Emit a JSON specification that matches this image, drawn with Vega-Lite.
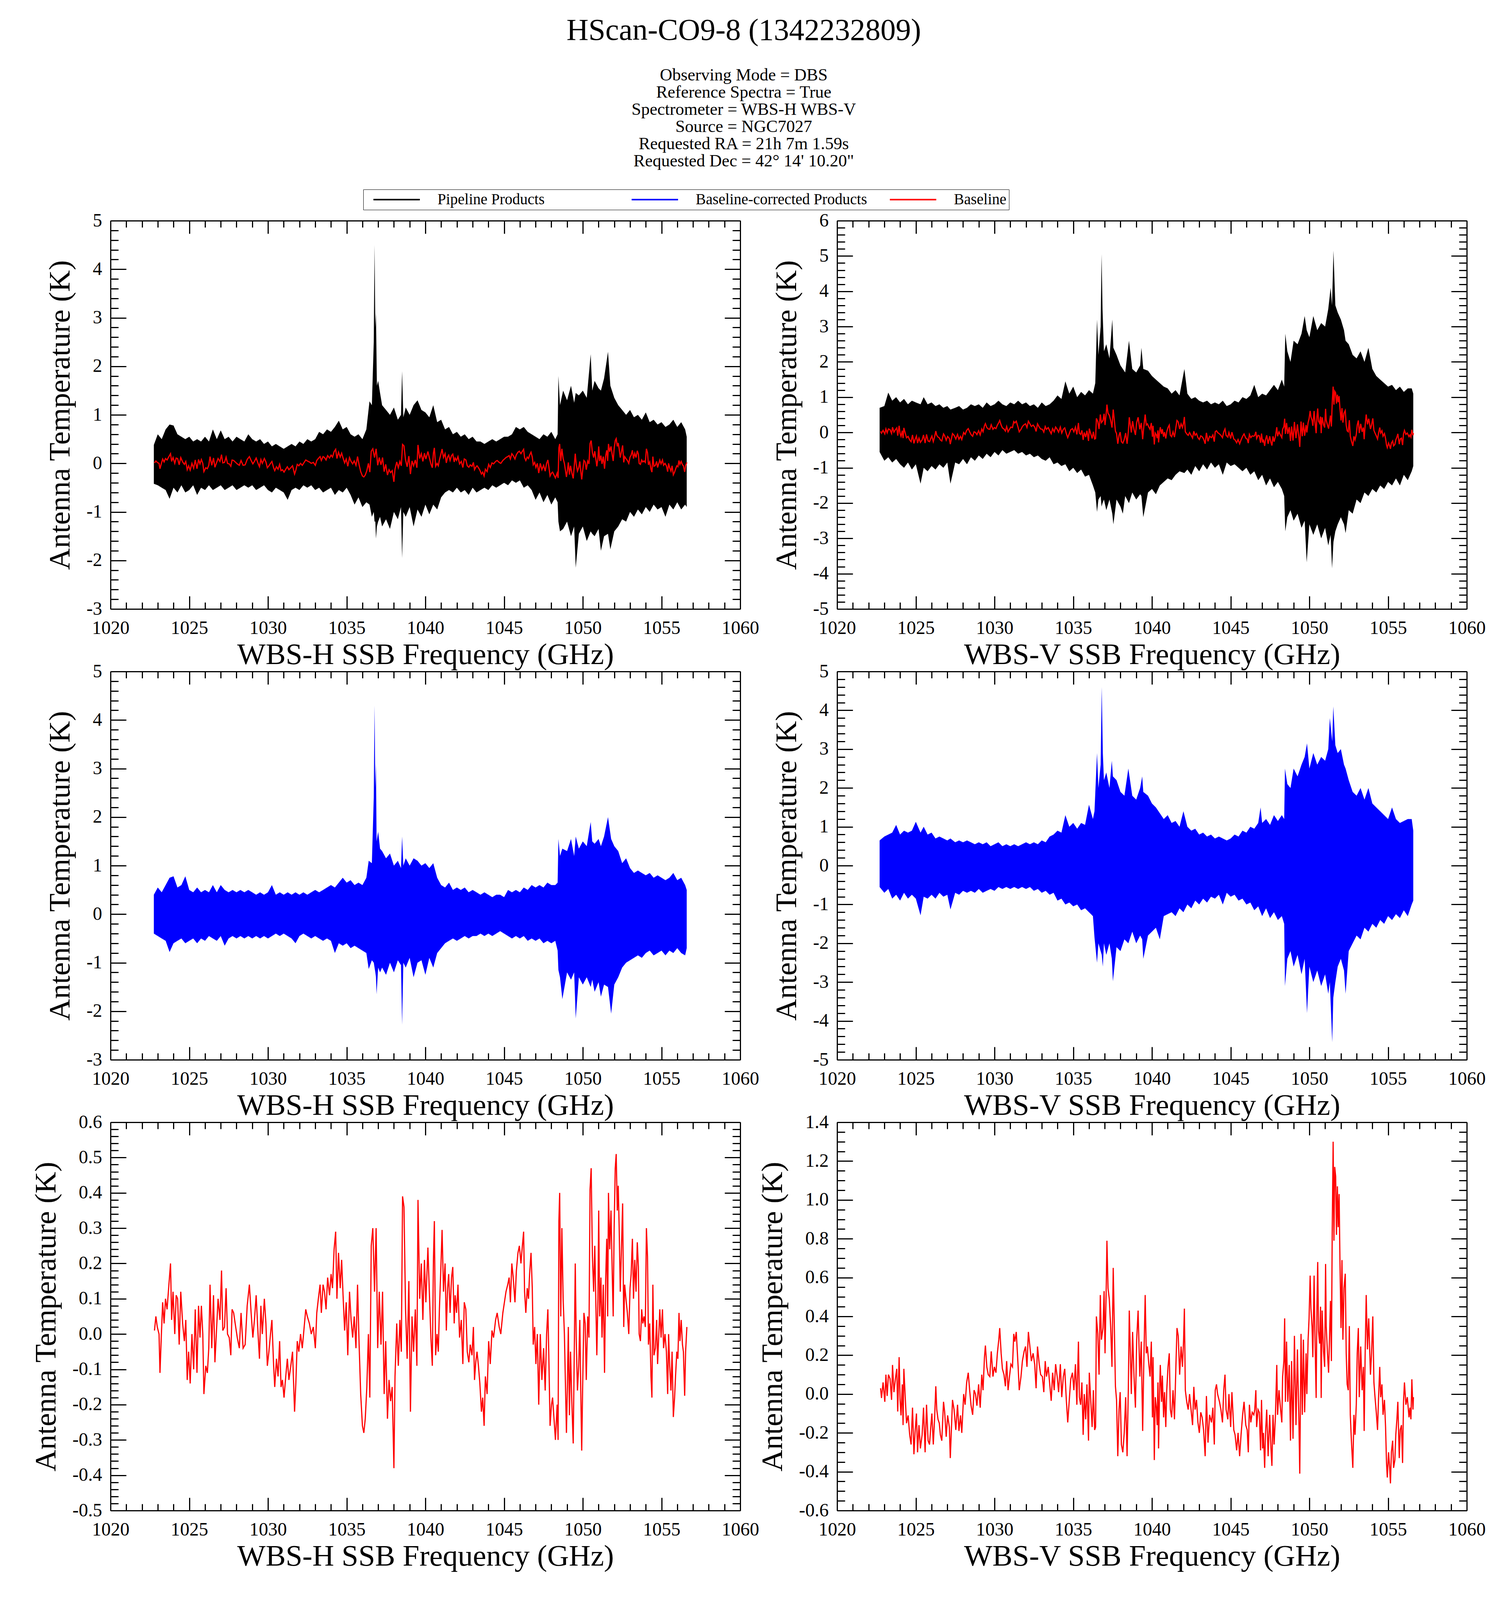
{
  "$schema": "https://vega.github.io/schema/vega-lite/v6.json",
  "background": "#ffffff",
  "padding": {"left": 79, "top": 39, "right": 20, "bottom": 20},
  "title": {
    "text": "HScan-CO9-8 (1342232809)",
    "subtitle": ["Observing Mode = DBS", "Reference Spectra = True", "Spectrometer = WBS-H WBS-V", "Source = NGC7027", "Requested RA = 21h 7m 1.59s", "Requested Dec = 42° 14' 10.20\""],
    "anchor": "middle",
    "dx": -37,
    "font": "Liberation Serif",
    "fontSize": 78,
    "fontWeight": "normal",
    "color": "#000000",
    "subtitleFont": "Liberation Serif",
    "subtitleFontSize": 44,
    "subtitleColor": "#000000",
    "subtitleLineHeight": 44,
    "subtitlePadding": 53,
    "offset": 50
  },
  "columns": 2,
  "spacing": {"row": 160, "column": 248},
  "bounds": "flush",
  "datasets": {
    "hPipe": [
      {"f":1022.75,"lo":-0.42,"hi":0.38},{"f":1023.0,"lo":-0.45,"hi":0.6},{"f":1023.25,"lo":-0.5,"hi":0.5},{"f":1023.5,"lo":-0.55,"hi":0.7},{"f":1023.75,"lo":-0.73,"hi":0.8},{"f":1024.0,"lo":-0.5,"hi":0.78},{"f":1024.25,"lo":-0.6,"hi":0.6},{"f":1024.5,"lo":-0.45,"hi":0.55},{"f":1024.75,"lo":-0.6,"hi":0.5},{"f":1025.0,"lo":-0.55,"hi":0.55},{"f":1025.25,"lo":-0.45,"hi":0.45},{"f":1025.5,"lo":-0.65,"hi":0.5},{"f":1025.75,"lo":-0.5,"hi":0.45},{"f":1026.0,"lo":-0.55,"hi":0.55},{"f":1026.25,"lo":-0.45,"hi":0.45},{"f":1026.5,"lo":-0.55,"hi":0.7},{"f":1026.75,"lo":-0.5,"hi":0.5},{"f":1027.0,"lo":-0.45,"hi":0.68},{"f":1027.25,"lo":-0.55,"hi":0.5},{"f":1027.5,"lo":-0.5,"hi":0.55},{"f":1027.75,"lo":-0.45,"hi":0.45},{"f":1028.0,"lo":-0.55,"hi":0.55},{"f":1028.25,"lo":-0.5,"hi":0.5},{"f":1028.5,"lo":-0.45,"hi":0.45},{"f":1028.75,"lo":-0.5,"hi":0.6},{"f":1029.0,"lo":-0.45,"hi":0.5},{"f":1029.25,"lo":-0.55,"hi":0.45},{"f":1029.5,"lo":-0.5,"hi":0.5},{"f":1029.75,"lo":-0.45,"hi":0.4},{"f":1030.0,"lo":-0.55,"hi":0.45},{"f":1030.25,"lo":-0.6,"hi":0.35},{"f":1030.5,"lo":-0.5,"hi":0.4},{"f":1030.75,"lo":-0.55,"hi":0.35},{"f":1031.0,"lo":-0.6,"hi":0.3},{"f":1031.25,"lo":-0.75,"hi":0.35},{"f":1031.5,"lo":-0.55,"hi":0.4},{"f":1031.75,"lo":-0.5,"hi":0.35},{"f":1032.0,"lo":-0.55,"hi":0.45},{"f":1032.25,"lo":-0.45,"hi":0.4},{"f":1032.5,"lo":-0.5,"hi":0.5},{"f":1032.75,"lo":-0.45,"hi":0.45},{"f":1033.0,"lo":-0.55,"hi":0.5},{"f":1033.25,"lo":-0.5,"hi":0.65},{"f":1033.5,"lo":-0.6,"hi":0.6},{"f":1033.75,"lo":-0.55,"hi":0.7},{"f":1034.0,"lo":-0.5,"hi":0.65},{"f":1034.25,"lo":-0.65,"hi":0.75},{"f":1034.5,"lo":-0.55,"hi":0.88},{"f":1034.75,"lo":-0.6,"hi":0.7},{"f":1035.0,"lo":-0.5,"hi":0.75},{"f":1035.25,"lo":-0.65,"hi":0.6},{"f":1035.5,"lo":-0.85,"hi":0.55},{"f":1035.75,"lo":-0.7,"hi":0.6},{"f":1036.0,"lo":-0.9,"hi":0.5},{"f":1036.25,"lo":-0.8,"hi":0.7},{"f":1036.45,"lo":-0.85,"hi":1.28},{"f":1036.6,"lo":-1.1,"hi":1.2},{"f":1036.72,"lo":-1.0,"hi":2.5},{"f":1036.77,"lo":-1.2,"hi":4.5},{"f":1036.82,"lo":-1.2,"hi":2.8},{"f":1036.86,"lo":-1.55,"hi":3.1},{"f":1036.92,"lo":-1.3,"hi":1.6},{"f":1037.0,"lo":-1.2,"hi":1.7},{"f":1037.12,"lo":-1.1,"hi":1.45},{"f":1037.25,"lo":-1.3,"hi":1.2},{"f":1037.5,"lo":-1.15,"hi":1.1},{"f":1037.75,"lo":-1.35,"hi":1.0},{"f":1038.0,"lo":-1.0,"hi":1.15},{"f":1038.25,"lo":-1.15,"hi":0.9},{"f":1038.45,"lo":-0.9,"hi":1.0},{"f":1038.52,"lo":-1.95,"hi":1.9},{"f":1038.6,"lo":-1.0,"hi":0.95},{"f":1038.75,"lo":-1.1,"hi":1.15},{"f":1039.0,"lo":-0.9,"hi":1.0},{"f":1039.25,"lo":-1.3,"hi":1.2},{"f":1039.5,"lo":-0.95,"hi":1.3},{"f":1039.75,"lo":-1.1,"hi":1.1},{"f":1040.0,"lo":-0.85,"hi":1.05},{"f":1040.25,"lo":-1.05,"hi":0.95},{"f":1040.5,"lo":-0.85,"hi":1.2},{"f":1040.75,"lo":-0.95,"hi":0.85},{"f":1041.0,"lo":-0.7,"hi":0.9},{"f":1041.25,"lo":-0.6,"hi":0.7},{"f":1041.5,"lo":-0.55,"hi":0.75},{"f":1041.75,"lo":-0.6,"hi":0.6},{"f":1042.0,"lo":-0.5,"hi":0.65},{"f":1042.25,"lo":-0.6,"hi":0.55},{"f":1042.5,"lo":-0.55,"hi":0.6},{"f":1042.75,"lo":-0.65,"hi":0.5},{"f":1043.0,"lo":-0.5,"hi":0.55},{"f":1043.25,"lo":-0.6,"hi":0.45},{"f":1043.5,"lo":-0.55,"hi":0.45},{"f":1043.75,"lo":-0.5,"hi":0.4},{"f":1044.0,"lo":-0.55,"hi":0.45},{"f":1044.25,"lo":-0.45,"hi":0.5},{"f":1044.5,"lo":-0.5,"hi":0.45},{"f":1044.75,"lo":-0.45,"hi":0.5},{"f":1045.0,"lo":-0.4,"hi":0.55},{"f":1045.25,"lo":-0.45,"hi":0.55},{"f":1045.5,"lo":-0.35,"hi":0.6},{"f":1045.75,"lo":-0.4,"hi":0.75},{"f":1046.0,"lo":-0.35,"hi":0.7},{"f":1046.25,"lo":-0.5,"hi":0.75},{"f":1046.5,"lo":-0.45,"hi":0.65},{"f":1046.75,"lo":-0.55,"hi":0.6},{"f":1047.0,"lo":-0.75,"hi":0.55},{"f":1047.25,"lo":-0.6,"hi":0.5},{"f":1047.5,"lo":-0.8,"hi":0.6},{"f":1047.75,"lo":-0.65,"hi":0.55},{"f":1048.0,"lo":-0.85,"hi":0.65},{"f":1048.25,"lo":-0.7,"hi":0.5},{"f":1048.4,"lo":-0.8,"hi":0.6},{"f":1048.45,"lo":-1.2,"hi":1.8},{"f":1048.55,"lo":-1.4,"hi":1.2},{"f":1048.75,"lo":-1.35,"hi":1.5},{"f":1049.0,"lo":-1.2,"hi":1.3},{"f":1049.25,"lo":-1.5,"hi":1.6},{"f":1049.45,"lo":-1.3,"hi":1.25},{"f":1049.55,"lo":-2.15,"hi":1.45},{"f":1049.75,"lo":-1.45,"hi":1.4},{"f":1050.0,"lo":-1.3,"hi":1.5},{"f":1050.25,"lo":-1.6,"hi":1.35},{"f":1050.5,"lo":-1.4,"hi":2.25},{"f":1050.6,"lo":-1.45,"hi":1.5},{"f":1050.75,"lo":-1.5,"hi":1.7},{"f":1051.0,"lo":-1.35,"hi":1.55},{"f":1051.15,"lo":-1.8,"hi":1.5},{"f":1051.35,"lo":-1.5,"hi":1.75},{"f":1051.6,"lo":-1.45,"hi":2.3},{"f":1051.75,"lo":-1.77,"hi":1.6},{"f":1052.0,"lo":-1.4,"hi":1.35},{"f":1052.25,"lo":-1.3,"hi":1.2},{"f":1052.5,"lo":-1.15,"hi":1.1},{"f":1052.75,"lo":-1.2,"hi":1.0},{"f":1053.0,"lo":-1.0,"hi":1.1},{"f":1053.25,"lo":-1.1,"hi":0.95},{"f":1053.5,"lo":-0.95,"hi":1.0},{"f":1053.75,"lo":-1.05,"hi":0.9},{"f":1054.0,"lo":-0.9,"hi":1.05},{"f":1054.25,"lo":-1.0,"hi":0.85},{"f":1054.5,"lo":-0.85,"hi":0.9},{"f":1054.75,"lo":-0.95,"hi":0.8},{"f":1055.0,"lo":-0.9,"hi":0.85},{"f":1055.25,"lo":-1.1,"hi":0.75},{"f":1055.5,"lo":-0.85,"hi":0.8},{"f":1055.75,"lo":-0.95,"hi":0.9},{"f":1056.0,"lo":-0.8,"hi":0.75},{"f":1056.25,"lo":-0.95,"hi":0.85},{"f":1056.5,"lo":-0.85,"hi":0.7},{"f":1056.6,"lo":-0.9,"hi":0.55}
    ],
    "hCorr": [
      {"f":1022.75,"lo":-0.4,"hi":0.4},{"f":1023.0,"lo":-0.45,"hi":0.55},{"f":1023.25,"lo":-0.5,"hi":0.45},{"f":1023.5,"lo":-0.55,"hi":0.6},{"f":1023.75,"lo":-0.78,"hi":0.75},{"f":1024.0,"lo":-0.6,"hi":0.78},{"f":1024.25,"lo":-0.55,"hi":0.55},{"f":1024.5,"lo":-0.5,"hi":0.6},{"f":1024.75,"lo":-0.6,"hi":0.78},{"f":1025.0,"lo":-0.55,"hi":0.5},{"f":1025.25,"lo":-0.5,"hi":0.45},{"f":1025.5,"lo":-0.6,"hi":0.55},{"f":1025.75,"lo":-0.5,"hi":0.45},{"f":1026.0,"lo":-0.55,"hi":0.5},{"f":1026.25,"lo":-0.45,"hi":0.45},{"f":1026.5,"lo":-0.5,"hi":0.6},{"f":1026.75,"lo":-0.55,"hi":0.45},{"f":1027.0,"lo":-0.45,"hi":0.6},{"f":1027.25,"lo":-0.65,"hi":0.5},{"f":1027.5,"lo":-0.5,"hi":0.45},{"f":1027.75,"lo":-0.45,"hi":0.5},{"f":1028.0,"lo":-0.5,"hi":0.45},{"f":1028.25,"lo":-0.45,"hi":0.5},{"f":1028.5,"lo":-0.5,"hi":0.45},{"f":1028.75,"lo":-0.45,"hi":0.5},{"f":1029.0,"lo":-0.5,"hi":0.45},{"f":1029.25,"lo":-0.45,"hi":0.4},{"f":1029.5,"lo":-0.5,"hi":0.45},{"f":1029.75,"lo":-0.45,"hi":0.4},{"f":1030.0,"lo":-0.5,"hi":0.45},{"f":1030.25,"lo":-0.45,"hi":0.6},{"f":1030.5,"lo":-0.4,"hi":0.4},{"f":1030.75,"lo":-0.45,"hi":0.45},{"f":1031.0,"lo":-0.4,"hi":0.4},{"f":1031.25,"lo":-0.45,"hi":0.45},{"f":1031.5,"lo":-0.5,"hi":0.4},{"f":1031.75,"lo":-0.6,"hi":0.45},{"f":1032.0,"lo":-0.45,"hi":0.4},{"f":1032.25,"lo":-0.4,"hi":0.45},{"f":1032.5,"lo":-0.45,"hi":0.4},{"f":1032.75,"lo":-0.5,"hi":0.45},{"f":1033.0,"lo":-0.45,"hi":0.5},{"f":1033.25,"lo":-0.5,"hi":0.45},{"f":1033.5,"lo":-0.55,"hi":0.5},{"f":1033.75,"lo":-0.5,"hi":0.55},{"f":1034.0,"lo":-0.55,"hi":0.6},{"f":1034.25,"lo":-0.8,"hi":0.55},{"f":1034.5,"lo":-0.6,"hi":0.65},{"f":1034.75,"lo":-0.65,"hi":0.75},{"f":1035.0,"lo":-0.6,"hi":0.65},{"f":1035.25,"lo":-0.7,"hi":0.7},{"f":1035.5,"lo":-0.65,"hi":0.6},{"f":1035.75,"lo":-0.7,"hi":0.65},{"f":1036.0,"lo":-0.75,"hi":0.6},{"f":1036.25,"lo":-0.8,"hi":0.75},{"f":1036.4,"lo":-1.13,"hi":1.1},{"f":1036.6,"lo":-0.95,"hi":1.05},{"f":1036.72,"lo":-1.0,"hi":2.4},{"f":1036.77,"lo":-1.1,"hi":4.3},{"f":1036.82,"lo":-1.2,"hi":2.6},{"f":1036.86,"lo":-1.3,"hi":3.1},{"f":1036.9,"lo":-1.65,"hi":1.5},{"f":1037.0,"lo":-1.1,"hi":1.7},{"f":1037.12,"lo":-1.2,"hi":1.35},{"f":1037.25,"lo":-1.1,"hi":1.3},{"f":1037.5,"lo":-1.25,"hi":1.15},{"f":1037.75,"lo":-1.0,"hi":1.25},{"f":1038.0,"lo":-1.2,"hi":1.0},{"f":1038.25,"lo":-0.95,"hi":1.1},{"f":1038.45,"lo":-1.05,"hi":0.95},{"f":1038.52,"lo":-2.28,"hi":1.6},{"f":1038.6,"lo":-1.0,"hi":1.0},{"f":1038.75,"lo":-1.1,"hi":1.15},{"f":1039.0,"lo":-0.9,"hi":1.0},{"f":1039.25,"lo":-1.3,"hi":1.15},{"f":1039.5,"lo":-1.0,"hi":1.1},{"f":1039.75,"lo":-0.95,"hi":1.0},{"f":1040.0,"lo":-1.25,"hi":1.05},{"f":1040.25,"lo":-0.9,"hi":0.95},{"f":1040.5,"lo":-1.1,"hi":1.05},{"f":1040.75,"lo":-0.8,"hi":0.75},{"f":1041.0,"lo":-0.7,"hi":0.6},{"f":1041.25,"lo":-0.6,"hi":0.55},{"f":1041.5,"lo":-0.55,"hi":0.65},{"f":1041.75,"lo":-0.5,"hi":0.5},{"f":1042.0,"lo":-0.55,"hi":0.55},{"f":1042.25,"lo":-0.5,"hi":0.5},{"f":1042.5,"lo":-0.45,"hi":0.55},{"f":1042.75,"lo":-0.5,"hi":0.45},{"f":1043.0,"lo":-0.45,"hi":0.5},{"f":1043.25,"lo":-0.45,"hi":0.45},{"f":1043.5,"lo":-0.4,"hi":0.4},{"f":1043.75,"lo":-0.45,"hi":0.45},{"f":1044.0,"lo":-0.4,"hi":0.4},{"f":1044.25,"lo":-0.45,"hi":0.35},{"f":1044.5,"lo":-0.4,"hi":0.4},{"f":1044.75,"lo":-0.35,"hi":0.4},{"f":1045.0,"lo":-0.4,"hi":0.35},{"f":1045.25,"lo":-0.45,"hi":0.5},{"f":1045.5,"lo":-0.5,"hi":0.45},{"f":1045.75,"lo":-0.45,"hi":0.5},{"f":1046.0,"lo":-0.5,"hi":0.45},{"f":1046.25,"lo":-0.45,"hi":0.55},{"f":1046.5,"lo":-0.55,"hi":0.5},{"f":1046.75,"lo":-0.5,"hi":0.6},{"f":1047.0,"lo":-0.55,"hi":0.55},{"f":1047.25,"lo":-0.5,"hi":0.6},{"f":1047.5,"lo":-0.6,"hi":0.55},{"f":1047.75,"lo":-0.55,"hi":0.65},{"f":1048.0,"lo":-0.6,"hi":0.6},{"f":1048.25,"lo":-0.55,"hi":0.6},{"f":1048.4,"lo":-0.75,"hi":0.65},{"f":1048.45,"lo":-1.15,"hi":1.55},{"f":1048.55,"lo":-1.3,"hi":1.2},{"f":1048.7,"lo":-1.75,"hi":1.35},{"f":1049.0,"lo":-1.2,"hi":1.3},{"f":1049.25,"lo":-1.35,"hi":1.55},{"f":1049.45,"lo":-1.2,"hi":1.2},{"f":1049.55,"lo":-2.15,"hi":1.6},{"f":1049.75,"lo":-1.3,"hi":1.35},{"f":1050.0,"lo":-1.45,"hi":1.5},{"f":1050.25,"lo":-1.3,"hi":1.4},{"f":1050.5,"lo":-1.5,"hi":1.9},{"f":1050.6,"lo":-1.35,"hi":1.5},{"f":1050.75,"lo":-1.6,"hi":1.45},{"f":1051.0,"lo":-1.4,"hi":1.55},{"f":1051.15,"lo":-1.7,"hi":1.4},{"f":1051.35,"lo":-1.45,"hi":1.6},{"f":1051.6,"lo":-1.5,"hi":2.0},{"f":1051.8,"lo":-2.05,"hi":1.55},{"f":1052.0,"lo":-1.45,"hi":1.4},{"f":1052.25,"lo":-1.3,"hi":1.3},{"f":1052.5,"lo":-1.1,"hi":1.05},{"f":1052.75,"lo":-1.0,"hi":1.15},{"f":1053.0,"lo":-0.95,"hi":0.95},{"f":1053.25,"lo":-0.9,"hi":0.85},{"f":1053.5,"lo":-0.85,"hi":0.9},{"f":1053.75,"lo":-0.9,"hi":0.85},{"f":1054.0,"lo":-0.8,"hi":0.8},{"f":1054.25,"lo":-0.75,"hi":0.85},{"f":1054.5,"lo":-0.85,"hi":0.75},{"f":1054.75,"lo":-0.8,"hi":0.8},{"f":1055.0,"lo":-0.75,"hi":0.75},{"f":1055.25,"lo":-0.85,"hi":0.7},{"f":1055.5,"lo":-0.75,"hi":0.75},{"f":1055.75,"lo":-0.8,"hi":0.85},{"f":1056.0,"lo":-0.7,"hi":0.7},{"f":1056.25,"lo":-0.8,"hi":0.75},{"f":1056.5,"lo":-0.85,"hi":0.6},{"f":1056.6,"lo":-0.7,"hi":0.5}
    ],
    "vPipe": [
      {"f":1022.7,"lo":-0.55,"hi":0.7},{"f":1023.0,"lo":-0.8,"hi":0.75},{"f":1023.25,"lo":-0.7,"hi":1.13},{"f":1023.5,"lo":-0.85,"hi":0.9},{"f":1023.75,"lo":-0.75,"hi":1.0},{"f":1024.0,"lo":-0.9,"hi":0.85},{"f":1024.25,"lo":-1.0,"hi":0.95},{"f":1024.5,"lo":-0.85,"hi":0.8},{"f":1024.75,"lo":-1.05,"hi":0.9},{"f":1025.0,"lo":-0.9,"hi":0.85},{"f":1025.3,"lo":-1.45,"hi":0.8},{"f":1025.5,"lo":-1.0,"hi":1.0},{"f":1025.75,"lo":-1.1,"hi":0.8},{"f":1026.0,"lo":-0.95,"hi":0.85},{"f":1026.25,"lo":-1.05,"hi":0.75},{"f":1026.5,"lo":-0.9,"hi":0.8},{"f":1026.75,"lo":-1.0,"hi":0.7},{"f":1027.0,"lo":-0.85,"hi":0.75},{"f":1027.2,"lo":-1.45,"hi":0.65},{"f":1027.5,"lo":-0.85,"hi":0.7},{"f":1027.75,"lo":-0.9,"hi":0.75},{"f":1028.0,"lo":-0.75,"hi":0.65},{"f":1028.25,"lo":-0.9,"hi":0.7},{"f":1028.5,"lo":-0.7,"hi":0.8},{"f":1028.75,"lo":-0.8,"hi":0.75},{"f":1029.0,"lo":-0.65,"hi":0.8},{"f":1029.25,"lo":-0.75,"hi":0.7},{"f":1029.5,"lo":-0.6,"hi":0.85},{"f":1029.75,"lo":-0.7,"hi":0.75},{"f":1030.0,"lo":-0.55,"hi":0.8},{"f":1030.25,"lo":-0.65,"hi":0.9},{"f":1030.5,"lo":-0.5,"hi":0.8},{"f":1030.75,"lo":-0.6,"hi":0.75},{"f":1031.0,"lo":-0.55,"hi":0.85},{"f":1031.25,"lo":-0.5,"hi":0.8},{"f":1031.5,"lo":-0.6,"hi":0.9},{"f":1031.75,"lo":-0.55,"hi":0.8},{"f":1032.0,"lo":-0.65,"hi":0.85},{"f":1032.25,"lo":-0.6,"hi":0.75},{"f":1032.5,"lo":-0.7,"hi":0.8},{"f":1032.75,"lo":-0.65,"hi":0.7},{"f":1033.0,"lo":-0.75,"hi":0.85},{"f":1033.25,"lo":-0.8,"hi":0.75},{"f":1033.5,"lo":-0.7,"hi":0.8},{"f":1033.75,"lo":-0.9,"hi":0.9},{"f":1034.0,"lo":-0.85,"hi":1.05},{"f":1034.25,"lo":-0.95,"hi":0.95},{"f":1034.5,"lo":-0.9,"hi":1.45},{"f":1034.75,"lo":-1.1,"hi":1.1},{"f":1035.0,"lo":-1.0,"hi":1.3},{"f":1035.25,"lo":-1.15,"hi":1.0},{"f":1035.5,"lo":-1.05,"hi":1.15},{"f":1035.75,"lo":-1.25,"hi":1.05},{"f":1036.0,"lo":-1.2,"hi":1.2},{"f":1036.25,"lo":-1.5,"hi":1.1},{"f":1036.4,"lo":-1.7,"hi":1.4},{"f":1036.51,"lo":-2.25,"hi":3.2},{"f":1036.6,"lo":-1.9,"hi":2.2},{"f":1036.74,"lo":-1.8,"hi":3.0},{"f":1036.8,"lo":-2.1,"hi":5.05},{"f":1036.86,"lo":-2.0,"hi":3.5},{"f":1036.95,"lo":-1.9,"hi":2.3},{"f":1037.1,"lo":-2.2,"hi":2.5},{"f":1037.3,"lo":-1.9,"hi":2.1},{"f":1037.48,"lo":-2.3,"hi":3.2},{"f":1037.55,"lo":-2.6,"hi":2.4},{"f":1037.75,"lo":-1.9,"hi":2.2},{"f":1038.0,"lo":-2.1,"hi":1.9},{"f":1038.15,"lo":-2.3,"hi":1.8},{"f":1038.3,"lo":-1.8,"hi":1.7},{"f":1038.54,"lo":-2.0,"hi":2.6},{"f":1038.75,"lo":-1.7,"hi":1.8},{"f":1039.0,"lo":-1.9,"hi":1.7},{"f":1039.25,"lo":-1.75,"hi":1.9},{"f":1039.33,"lo":-1.8,"hi":2.4},{"f":1039.45,"lo":-2.4,"hi":1.8},{"f":1039.75,"lo":-1.7,"hi":1.75},{"f":1040.0,"lo":-1.6,"hi":1.6},{"f":1040.25,"lo":-1.75,"hi":1.5},{"f":1040.5,"lo":-1.5,"hi":1.4},{"f":1040.75,"lo":-1.4,"hi":1.3},{"f":1041.0,"lo":-1.3,"hi":1.25},{"f":1041.25,"lo":-1.35,"hi":1.1},{"f":1041.5,"lo":-1.2,"hi":1.2},{"f":1041.75,"lo":-1.1,"hi":1.05},{"f":1042.06,"lo":-1.15,"hi":1.8},{"f":1042.25,"lo":-1.05,"hi":1.1},{"f":1042.5,"lo":-1.2,"hi":0.95},{"f":1042.75,"lo":-0.95,"hi":1.0},{"f":1043.0,"lo":-1.1,"hi":0.9},{"f":1043.25,"lo":-0.9,"hi":0.85},{"f":1043.5,"lo":-1.05,"hi":0.9},{"f":1043.75,"lo":-0.85,"hi":0.8},{"f":1044.0,"lo":-1.0,"hi":0.85},{"f":1044.25,"lo":-0.9,"hi":0.8},{"f":1044.5,"lo":-1.2,"hi":0.9},{"f":1044.75,"lo":-0.85,"hi":0.75},{"f":1045.0,"lo":-0.95,"hi":0.8},{"f":1045.25,"lo":-0.9,"hi":0.9},{"f":1045.5,"lo":-1.0,"hi":0.85},{"f":1045.75,"lo":-1.1,"hi":1.0},{"f":1046.0,"lo":-1.0,"hi":0.95},{"f":1046.25,"lo":-1.2,"hi":1.05},{"f":1046.5,"lo":-1.1,"hi":1.35},{"f":1046.75,"lo":-1.35,"hi":1.0},{"f":1047.0,"lo":-1.2,"hi":1.1},{"f":1047.25,"lo":-1.5,"hi":1.05},{"f":1047.5,"lo":-1.3,"hi":1.2},{"f":1047.75,"lo":-1.55,"hi":1.35},{"f":1048.0,"lo":-1.4,"hi":1.2},{"f":1048.25,"lo":-1.6,"hi":1.5},{"f":1048.4,"lo":-1.8,"hi":1.3},{"f":1048.47,"lo":-2.8,"hi":2.8},{"f":1048.6,"lo":-2.4,"hi":2.3},{"f":1048.8,"lo":-2.2,"hi":2.0},{"f":1049.0,"lo":-2.5,"hi":2.6},{"f":1049.25,"lo":-2.3,"hi":2.5},{"f":1049.5,"lo":-2.7,"hi":2.8},{"f":1049.7,"lo":-2.5,"hi":3.3},{"f":1049.83,"lo":-3.68,"hi":2.9},{"f":1050.0,"lo":-2.6,"hi":2.7},{"f":1050.25,"lo":-2.9,"hi":3.3},{"f":1050.5,"lo":-2.6,"hi":2.9},{"f":1050.75,"lo":-3.0,"hi":3.1},{"f":1051.0,"lo":-2.7,"hi":3.0},{"f":1051.2,"lo":-3.2,"hi":3.5},{"f":1051.35,"lo":-2.9,"hi":4.1},{"f":1051.44,"lo":-3.85,"hi":3.6},{"f":1051.53,"lo":-3.1,"hi":5.15},{"f":1051.65,"lo":-2.8,"hi":3.6},{"f":1051.8,"lo":-2.6,"hi":3.4},{"f":1052.0,"lo":-2.4,"hi":3.2},{"f":1052.2,"lo":-2.6,"hi":2.9},{"f":1052.3,"lo":-2.85,"hi":2.6},{"f":1052.5,"lo":-2.2,"hi":2.5},{"f":1052.75,"lo":-2.3,"hi":2.2},{"f":1053.0,"lo":-1.9,"hi":2.1},{"f":1053.25,"lo":-2.0,"hi":2.3},{"f":1053.5,"lo":-1.7,"hi":2.0},{"f":1053.75,"lo":-1.8,"hi":2.4},{"f":1054.0,"lo":-1.6,"hi":1.8},{"f":1054.25,"lo":-1.7,"hi":1.6},{"f":1054.5,"lo":-1.5,"hi":1.5},{"f":1054.75,"lo":-1.6,"hi":1.4},{"f":1055.0,"lo":-1.4,"hi":1.3},{"f":1055.25,"lo":-1.5,"hi":1.35},{"f":1055.5,"lo":-1.3,"hi":1.2},{"f":1055.75,"lo":-1.5,"hi":1.3},{"f":1056.0,"lo":-1.2,"hi":1.15},{"f":1056.25,"lo":-1.35,"hi":1.25},{"f":1056.5,"lo":-1.1,"hi":1.25},{"f":1056.6,"lo":-0.95,"hi":1.1}
    ],
    "vCorr": [
      {"f":1022.7,"lo":-0.55,"hi":0.65},{"f":1023.0,"lo":-0.7,"hi":0.75},{"f":1023.25,"lo":-0.6,"hi":0.8},{"f":1023.5,"lo":-0.85,"hi":0.85},{"f":1023.75,"lo":-0.75,"hi":1.05},{"f":1024.0,"lo":-0.9,"hi":0.8},{"f":1024.25,"lo":-0.7,"hi":0.9},{"f":1024.5,"lo":-0.85,"hi":0.85},{"f":1024.75,"lo":-0.75,"hi":0.9},{"f":1025.0,"lo":-0.85,"hi":1.13},{"f":1025.3,"lo":-1.28,"hi":0.85},{"f":1025.5,"lo":-0.8,"hi":1.0},{"f":1025.75,"lo":-0.85,"hi":0.8},{"f":1026.0,"lo":-0.75,"hi":0.85},{"f":1026.25,"lo":-0.85,"hi":0.7},{"f":1026.5,"lo":-0.7,"hi":0.75},{"f":1026.75,"lo":-0.8,"hi":0.7},{"f":1027.0,"lo":-0.75,"hi":0.65},{"f":1027.2,"lo":-1.13,"hi":0.7},{"f":1027.5,"lo":-0.7,"hi":0.6},{"f":1027.75,"lo":-0.75,"hi":0.65},{"f":1028.0,"lo":-0.65,"hi":0.6},{"f":1028.25,"lo":-0.7,"hi":0.65},{"f":1028.5,"lo":-0.65,"hi":0.6},{"f":1028.75,"lo":-0.7,"hi":0.55},{"f":1029.0,"lo":-0.6,"hi":0.6},{"f":1029.25,"lo":-0.7,"hi":0.55},{"f":1029.5,"lo":-0.65,"hi":0.6},{"f":1029.75,"lo":-0.6,"hi":0.5},{"f":1030.0,"lo":-0.65,"hi":0.55},{"f":1030.25,"lo":-0.55,"hi":0.6},{"f":1030.5,"lo":-0.6,"hi":0.5},{"f":1030.75,"lo":-0.55,"hi":0.55},{"f":1031.0,"lo":-0.6,"hi":0.5},{"f":1031.25,"lo":-0.55,"hi":0.55},{"f":1031.5,"lo":-0.6,"hi":0.5},{"f":1031.75,"lo":-0.55,"hi":0.55},{"f":1032.0,"lo":-0.6,"hi":0.6},{"f":1032.25,"lo":-0.55,"hi":0.55},{"f":1032.5,"lo":-0.65,"hi":0.6},{"f":1032.75,"lo":-0.6,"hi":0.55},{"f":1033.0,"lo":-0.7,"hi":0.65},{"f":1033.25,"lo":-0.65,"hi":0.6},{"f":1033.5,"lo":-0.75,"hi":0.75},{"f":1033.75,"lo":-0.7,"hi":0.8},{"f":1034.0,"lo":-0.9,"hi":0.9},{"f":1034.25,"lo":-0.85,"hi":0.85},{"f":1034.5,"lo":-1.0,"hi":1.3},{"f":1034.75,"lo":-0.95,"hi":1.0},{"f":1035.0,"lo":-1.05,"hi":1.1},{"f":1035.25,"lo":-1.0,"hi":0.95},{"f":1035.5,"lo":-1.15,"hi":1.1},{"f":1035.75,"lo":-1.1,"hi":1.05},{"f":1036.0,"lo":-1.2,"hi":1.57},{"f":1036.25,"lo":-1.3,"hi":1.2},{"f":1036.35,"lo":-1.85,"hi":1.4},{"f":1036.51,"lo":-2.5,"hi":2.9},{"f":1036.6,"lo":-2.0,"hi":2.0},{"f":1036.74,"lo":-2.2,"hi":2.6},{"f":1036.81,"lo":-2.3,"hi":4.6},{"f":1036.88,"lo":-2.6,"hi":2.9},{"f":1036.95,"lo":-2.0,"hi":2.2},{"f":1037.1,"lo":-2.3,"hi":2.4},{"f":1037.3,"lo":-2.0,"hi":2.0},{"f":1037.45,"lo":-2.4,"hi":2.7},{"f":1037.52,"lo":-2.98,"hi":2.3},{"f":1037.75,"lo":-2.1,"hi":2.2},{"f":1038.0,"lo":-2.2,"hi":1.9},{"f":1038.25,"lo":-1.9,"hi":1.8},{"f":1038.5,"lo":-2.0,"hi":2.5},{"f":1038.75,"lo":-1.7,"hi":1.8},{"f":1039.0,"lo":-2.0,"hi":1.7},{"f":1039.25,"lo":-1.8,"hi":2.0},{"f":1039.38,"lo":-1.9,"hi":2.3},{"f":1039.45,"lo":-2.4,"hi":1.9},{"f":1039.75,"lo":-1.8,"hi":1.8},{"f":1040.0,"lo":-1.7,"hi":1.6},{"f":1040.25,"lo":-1.6,"hi":1.5},{"f":1040.5,"lo":-1.9,"hi":1.35},{"f":1040.75,"lo":-1.3,"hi":1.2},{"f":1041.0,"lo":-1.25,"hi":1.3},{"f":1041.25,"lo":-1.2,"hi":1.1},{"f":1041.5,"lo":-1.3,"hi":1.15},{"f":1041.75,"lo":-1.1,"hi":1.0},{"f":1042.0,"lo":-1.2,"hi":1.4},{"f":1042.25,"lo":-1.0,"hi":1.0},{"f":1042.5,"lo":-1.1,"hi":0.9},{"f":1042.75,"lo":-0.9,"hi":0.95},{"f":1043.0,"lo":-1.0,"hi":0.8},{"f":1043.25,"lo":-0.85,"hi":0.85},{"f":1043.5,"lo":-0.95,"hi":0.75},{"f":1043.75,"lo":-0.8,"hi":0.8},{"f":1044.0,"lo":-0.85,"hi":0.7},{"f":1044.25,"lo":-0.75,"hi":0.75},{"f":1044.5,"lo":-1.0,"hi":0.7},{"f":1044.75,"lo":-0.7,"hi":0.65},{"f":1045.0,"lo":-0.8,"hi":0.7},{"f":1045.25,"lo":-0.75,"hi":0.8},{"f":1045.5,"lo":-0.9,"hi":0.75},{"f":1045.75,"lo":-0.85,"hi":0.9},{"f":1046.0,"lo":-1.0,"hi":0.85},{"f":1046.25,"lo":-0.95,"hi":1.0},{"f":1046.5,"lo":-1.15,"hi":0.95},{"f":1046.75,"lo":-1.05,"hi":1.1},{"f":1046.9,"lo":-1.2,"hi":1.5},{"f":1047.0,"lo":-1.3,"hi":1.1},{"f":1047.25,"lo":-1.1,"hi":1.2},{"f":1047.5,"lo":-1.35,"hi":1.05},{"f":1047.75,"lo":-1.2,"hi":1.3},{"f":1048.0,"lo":-1.4,"hi":1.15},{"f":1048.25,"lo":-1.3,"hi":1.3},{"f":1048.4,"lo":-1.5,"hi":1.2},{"f":1048.45,"lo":-3.1,"hi":2.5},{"f":1048.6,"lo":-2.4,"hi":2.1},{"f":1048.8,"lo":-2.2,"hi":2.0},{"f":1049.0,"lo":-2.6,"hi":2.5},{"f":1049.25,"lo":-2.3,"hi":2.3},{"f":1049.5,"lo":-2.8,"hi":2.6},{"f":1049.7,"lo":-2.4,"hi":2.8},{"f":1049.85,"lo":-3.8,"hi":3.15},{"f":1050.0,"lo":-2.6,"hi":2.5},{"f":1050.25,"lo":-3.0,"hi":2.9},{"f":1050.5,"lo":-2.7,"hi":2.6},{"f":1050.75,"lo":-3.1,"hi":2.8},{"f":1051.0,"lo":-2.8,"hi":2.7},{"f":1051.2,"lo":-3.3,"hi":3.0},{"f":1051.3,"lo":-3.0,"hi":3.8},{"f":1051.45,"lo":-4.55,"hi":3.2},{"f":1051.52,"lo":-3.4,"hi":4.1},{"f":1051.65,"lo":-3.0,"hi":3.1},{"f":1051.8,"lo":-2.6,"hi":2.9},{"f":1052.0,"lo":-2.4,"hi":3.0},{"f":1052.2,"lo":-2.7,"hi":2.6},{"f":1052.3,"lo":-3.3,"hi":2.5},{"f":1052.5,"lo":-2.2,"hi":2.2},{"f":1052.75,"lo":-2.0,"hi":1.9},{"f":1053.0,"lo":-1.8,"hi":1.8},{"f":1053.25,"lo":-1.9,"hi":2.0},{"f":1053.5,"lo":-1.6,"hi":1.7},{"f":1053.75,"lo":-1.7,"hi":2.0},{"f":1054.0,"lo":-1.5,"hi":1.6},{"f":1054.25,"lo":-1.6,"hi":1.5},{"f":1054.5,"lo":-1.4,"hi":1.4},{"f":1054.75,"lo":-1.5,"hi":1.3},{"f":1055.0,"lo":-1.3,"hi":1.2},{"f":1055.25,"lo":-1.4,"hi":1.5},{"f":1055.5,"lo":-1.25,"hi":1.2},{"f":1055.75,"lo":-1.35,"hi":1.1},{"f":1056.0,"lo":-1.15,"hi":1.15},{"f":1056.25,"lo":-1.3,"hi":1.2},{"f":1056.5,"lo":-1.0,"hi":1.2},{"f":1056.6,"lo":-0.9,"hi":0.9}
    ],
    "hBase": [
      {"f":1022.79,"t":0.01},{"f":1022.88,"t":0.05},{"f":1022.97,"t":0.02},{"f":1023.08,"t":0.0},{"f":1023.14,"t":-0.11},{"f":1023.23,"t":0.0},{"f":1023.31,"t":0.09},{"f":1023.4,"t":0.03},{"f":1023.49,"t":0.1},{"f":1023.59,"t":0.07},{"f":1023.69,"t":0.13},{"f":1023.81,"t":0.2},{"f":1023.88,"t":0.04},{"f":1023.97,"t":0.12},{"f":1024.08,"t":0.0},{"f":1024.17,"t":0.11},{"f":1024.26,"t":0.1},{"f":1024.36,"t":-0.03},{"f":1024.46,"t":0.12},{"f":1024.58,"t":0.03},{"f":1024.69,"t":-0.02},{"f":1024.78,"t":0.04},{"f":1024.87,"t":-0.13},{"f":1024.96,"t":-0.05},{"f":1025.06,"t":-0.14},{"f":1025.17,"t":0.0},{"f":1025.28,"t":-0.1},{"f":1025.38,"t":0.07},{"f":1025.49,"t":-0.11},{"f":1025.59,"t":0.08},{"f":1025.68,"t":-0.01},{"f":1025.77,"t":0.08},{"f":1025.86,"t":0.0},{"f":1025.93,"t":-0.17},{"f":1026.05,"t":-0.09},{"f":1026.15,"t":-0.11},{"f":1026.24,"t":-0.04},{"f":1026.32,"t":0.14},{"f":1026.43,"t":-0.04},{"f":1026.54,"t":0.11},{"f":1026.63,"t":-0.08},{"f":1026.73,"t":0.01},{"f":1026.83,"t":0.1},{"f":1026.95,"t":0.04},{"f":1027.05,"t":0.18},{"f":1027.13,"t":0.01},{"f":1027.24,"t":0.02},{"f":1027.34,"t":0.13},{"f":1027.43,"t":0.0},{"f":1027.54,"t":-0.01},{"f":1027.64,"t":-0.06},{"f":1027.72,"t":0.07},{"f":1027.82,"t":0.06},{"f":1027.95,"t":0.02},{"f":1028.05,"t":-0.01},{"f":1028.18,"t":-0.04},{"f":1028.29,"t":0.06},{"f":1028.42,"t":-0.04},{"f":1028.55,"t":-0.03},{"f":1028.68,"t":0.08},{"f":1028.82,"t":0.14},{"f":1028.93,"t":0.06},{"f":1029.04,"t":-0.01},{"f":1029.14,"t":0.04},{"f":1029.25,"t":0.11},{"f":1029.37,"t":0.0},{"f":1029.46,"t":-0.07},{"f":1029.55,"t":0.08},{"f":1029.64,"t":0.0},{"f":1029.77,"t":0.1},{"f":1029.87,"t":0.03},{"f":1029.96,"t":-0.09},{"f":1030.06,"t":-0.05},{"f":1030.16,"t":0.0},{"f":1030.25,"t":0.04},{"f":1030.36,"t":-0.09},{"f":1030.43,"t":-0.15},{"f":1030.54,"t":-0.07},{"f":1030.64,"t":-0.12},{"f":1030.74,"t":-0.02},{"f":1030.83,"t":-0.15},{"f":1030.92,"t":-0.13},{"f":1031.02,"t":-0.18},{"f":1031.13,"t":-0.12},{"f":1031.23,"t":-0.07},{"f":1031.33,"t":-0.13},{"f":1031.45,"t":-0.09},{"f":1031.56,"t":-0.05},{"f":1031.69,"t":-0.22},{"f":1031.77,"t":-0.14},{"f":1031.86,"t":-0.02},{"f":1031.96,"t":-0.05},{"f":1032.07,"t":0.0},{"f":1032.18,"t":-0.04},{"f":1032.28,"t":0.01},{"f":1032.4,"t":0.07},{"f":1032.5,"t":0.05},{"f":1032.63,"t":0.03},{"f":1032.75,"t":0.0},{"f":1032.88,"t":0.02},{"f":1033.01,"t":-0.04},{"f":1033.1,"t":0.06},{"f":1033.2,"t":0.1},{"f":1033.31,"t":0.14},{"f":1033.39,"t":0.06},{"f":1033.5,"t":0.14},{"f":1033.59,"t":0.12},{"f":1033.69,"t":0.07},{"f":1033.79,"t":0.16},{"f":1033.91,"t":0.11},{"f":1034.01,"t":0.17},{"f":1034.1,"t":0.13},{"f":1034.2,"t":0.24},{"f":1034.3,"t":0.29},{"f":1034.38,"t":0.1},{"f":1034.48,"t":0.23},{"f":1034.59,"t":0.13},{"f":1034.68,"t":0.21},{"f":1034.77,"t":0.11},{"f":1034.87,"t":0.01},{"f":1034.97,"t":0.09},{"f":1035.07,"t":-0.06},{"f":1035.18,"t":0.12},{"f":1035.28,"t":0.04},{"f":1035.38,"t":-0.01},{"f":1035.48,"t":0.05},{"f":1035.59,"t":-0.04},{"f":1035.69,"t":0.14},{"f":1035.79,"t":-0.03},{"f":1035.89,"t":-0.17},{"f":1036.0,"t":-0.26},{"f":1036.09,"t":-0.28},{"f":1036.18,"t":-0.24},{"f":1036.28,"t":-0.15},{"f":1036.38,"t":0.0},{"f":1036.47,"t":-0.18},{"f":1036.56,"t":0.25},{"f":1036.66,"t":0.3},{"f":1036.77,"t":0.12},{"f":1036.87,"t":0.3},{"f":1036.97,"t":-0.04},{"f":1037.07,"t":0.12},{"f":1037.18,"t":-0.03},{"f":1037.28,"t":0.12},{"f":1037.38,"t":-0.17},{"f":1037.48,"t":-0.02},{"f":1037.59,"t":-0.24},{"f":1037.69,"t":-0.13},{"f":1037.79,"t":-0.19},{"f":1037.89,"t":-0.15},{"f":1038.0,"t":-0.38},{"f":1038.07,"t":-0.12},{"f":1038.18,"t":0.03},{"f":1038.28,"t":-0.09},{"f":1038.38,"t":0.04},{"f":1038.47,"t":-0.05},{"f":1038.55,"t":0.39},{"f":1038.64,"t":0.36},{"f":1038.74,"t":0.07},{"f":1038.84,"t":-0.07},{"f":1038.95,"t":0.15},{"f":1039.05,"t":-0.22},{"f":1039.15,"t":0.05},{"f":1039.25,"t":-0.05},{"f":1039.36,"t":0.07},{"f":1039.46,"t":-0.09},{"f":1039.53,"t":0.38},{"f":1039.64,"t":0.1},{"f":1039.74,"t":0.2},{"f":1039.84,"t":0.04},{"f":1039.94,"t":0.21},
      {"f":1040.03,"t":0.09},{"f":1040.16,"t":0.245},{"f":1040.25,"t":0.12},{"f":1040.35,"t":-0.01},{"f":1040.44,"t":-0.09},{"f":1040.51,"t":0.21},{"f":1040.57,"t":0.32},{"f":1040.65,"t":-0.06},{"f":1040.74,"t":0.0},{"f":1040.82,"t":-0.05},{"f":1040.89,"t":0.07},{"f":1040.97,"t":0.17},{"f":1041.06,"t":0.295},{"f":1041.15,"t":0.12},{"f":1041.25,"t":0.2},{"f":1041.33,"t":0.01},{"f":1041.41,"t":0.13},{"f":1041.48,"t":0.17},{"f":1041.57,"t":0.06},{"f":1041.66,"t":0.16},{"f":1041.74,"t":0.19},{"f":1041.83,"t":0.03},{"f":1041.89,"t":0.11},{"f":1041.98,"t":0.06},{"f":1042.07,"t":0.14},{"f":1042.17,"t":-0.01},{"f":1042.28,"t":0.04},{"f":1042.38,"t":-0.085},{"f":1042.47,"t":0.09},{"f":1042.57,"t":0.07},{"f":1042.66,"t":-0.05},{"f":1042.76,"t":-0.08},{"f":1042.85,"t":-0.03},{"f":1042.96,"t":-0.06},{"f":1043.05,"t":0.02},{"f":1043.12,"t":-0.13},{"f":1043.2,"t":-0.08},{"f":1043.28,"t":-0.05},{"f":1043.37,"t":-0.09},{"f":1043.46,"t":-0.14},{"f":1043.56,"t":-0.22},{"f":1043.64,"t":-0.18},{"f":1043.73,"t":-0.26},{"f":1043.81,"t":-0.12},{"f":1043.92,"t":-0.17},{"f":1044.02,"t":-0.02},{"f":1044.12,"t":-0.085},{"f":1044.23,"t":0.01},{"f":1044.33,"t":-0.01},{"f":1044.46,"t":0.04},{"f":1044.56,"t":0.06},{"f":1044.69,"t":0.02},{"f":1044.79,"t":0.0},{"f":1044.92,"t":0.06},{"f":1045.02,"t":0.09},{"f":1045.12,"t":0.12},{"f":1045.23,"t":0.14},{"f":1045.32,"t":0.16},{"f":1045.4,"t":0.09},{"f":1045.49,"t":0.2},{"f":1045.58,"t":0.16},{"f":1045.69,"t":0.09},{"f":1045.78,"t":0.18},{"f":1045.88,"t":0.23},{"f":1045.97,"t":0.25},{"f":1046.07,"t":0.2},{"f":1046.16,"t":0.25},{"f":1046.24,"t":0.29},{"f":1046.3,"t":0.12},{"f":1046.38,"t":0.06},{"f":1046.47,"t":0.13},{"f":1046.55,"t":0.1},{"f":1046.62,"t":0.17},{"f":1046.71,"t":0.23},{"f":1046.79,"t":0.13},{"f":1046.85,"t":-0.03},{"f":1046.94,"t":0.02},{"f":1047.02,"t":-0.085},{"f":1047.11,"t":0.0},{"f":1047.2,"t":-0.2},{"f":1047.3,"t":0.0},{"f":1047.4,"t":-0.13},{"f":1047.51,"t":-0.04},{"f":1047.61,"t":-0.16},{"f":1047.7,"t":0.0},{"f":1047.78,"t":0.07},{"f":1047.84,"t":-0.06},{"f":1047.92,"t":-0.26},{"f":1048.01,"t":-0.2},{"f":1048.08,"t":-0.18},{"f":1048.17,"t":-0.24},{"f":1048.26,"t":-0.3},{"f":1048.37,"t":-0.2},{"f":1048.43,"t":-0.3},{"f":1048.48,"t":0.32},{"f":1048.53,"t":0.4},{"f":1048.6,"t":0.05},{"f":1048.67,"t":0.3},{"f":1048.75,"t":0.1},{"f":1048.83,"t":0.0},{"f":1048.9,"t":-0.15},{"f":1048.96,"t":-0.28},{"f":1049.02,"t":-0.15},{"f":1049.08,"t":0.02},{"f":1049.15,"t":-0.23},{"f":1049.22,"t":-0.05},{"f":1049.3,"t":-0.19},{"f":1049.39,"t":-0.31},{"f":1049.45,"t":-0.08},{"f":1049.52,"t":0.2},{"f":1049.58,"t":-0.01},{"f":1049.66,"t":-0.16},{"f":1049.74,"t":-0.09},{"f":1049.81,"t":0.04},{"f":1049.87,"t":-0.16},{"f":1049.93,"t":-0.33},{"f":1049.99,"t":-0.15},{"f":1050.07,"t":0.06},{"f":1050.15,"t":0.03},{"f":1050.22,"t":-0.13},{"f":1050.31,"t":0.05},{"f":1050.39,"t":-0.01},{"f":1050.46,"t":0.41},{"f":1050.53,"t":0.47},{"f":1050.61,"t":0.22},{"f":1050.69,"t":0.12},{"f":1050.76,"t":0.25},{"f":1050.84,"t":0.06},{"f":1050.89,"t":-0.06},{"f":1050.96,"t":0.1},{"f":1051.01,"t":0.35},{"f":1051.07,"t":0.05},{"f":1051.15,"t":0.16},{"f":1051.22,"t":-0.01},{"f":1051.3,"t":0.14},{"f":1051.38,"t":-0.11},{"f":1051.45,"t":0.15},{"f":1051.52,"t":0.27},{"f":1051.58,"t":0.05},{"f":1051.63,"t":0.4},{"f":1051.71,"t":0.24},{"f":1051.79,"t":0.35},{"f":1051.87,"t":0.17},{"f":1051.93,"t":0.05},{"f":1051.99,"t":0.3},{"f":1052.06,"t":0.47},{"f":1052.12,"t":0.51},{"f":1052.19,"t":0.35},{"f":1052.25,"t":0.42},{"f":1052.31,"t":0.3},{"f":1052.38,"t":0.12},{"f":1052.46,"t":0.25},{"f":1052.53,"t":0.37},{"f":1052.6,"t":0.02},{"f":1052.66,"t":0.14},{"f":1052.74,"t":0.1},{"f":1052.83,"t":0.06},{"f":1052.92,"t":0.0},{"f":1053.0,"t":0.13},{"f":1053.07,"t":0.17},{"f":1053.15,"t":0.27},{"f":1053.22,"t":0.1},{"f":1053.3,"t":0.21},{"f":1053.38,"t":0.12},{"f":1053.46,"t":0.26},{"f":1053.53,"t":0.19},{"f":1053.58,"t":0.0},{"f":1053.66,"t":-0.02},{"f":1053.74,"t":0.07},{"f":1053.81,"t":0.03},{"f":1053.89,"t":0.05},{"f":1053.97,"t":0.02},{"f":1054.04,"t":0.3},{"f":1054.11,"t":0.22},{"f":1054.17,"t":-0.03},{"f":1054.25,"t":0.03},{"f":1054.33,"t":-0.12},{"f":1054.39,"t":-0.18},{"f":1054.45,"t":0.14},{"f":1054.52,"t":-0.06},{"f":1054.61,"t":-0.04},{"f":1054.69,"t":0.04},{"f":1054.75,"t":-0.085},{"f":1054.81,"t":-0.02},{"f":1054.89,"t":0.07},{"f":1054.97,"t":-0.01},{"f":1055.06,"t":0.07},{"f":1055.13,"t":-0.04},{"f":1055.22,"t":0.0},{"f":1055.31,"t":-0.05},{"f":1055.39,"t":-0.17},{"f":1055.45,"t":0.0},{"f":1055.52,"t":-0.09},{"f":1055.6,"t":-0.16},{"f":1055.67,"t":-0.05},{"f":1055.75,"t":-0.235},{"f":1055.83,"t":-0.18},{"f":1055.89,"t":-0.12},{"f":1055.97,"t":-0.05},{"f":1056.04,"t":-0.07},{"f":1056.11,"t":0.06},{"f":1056.17,"t":-0.02},{"f":1056.25,"t":0.04},{"f":1056.33,"t":-0.03},{"f":1056.39,"t":-0.05},{"f":1056.47,"t":-0.175},{"f":1056.53,"t":-0.05},{"f":1056.61,"t":0.02}
    ],
    "vBase": [
      {"f":1022.76,"t":0.03},{"f":1022.82,"t":-0.02},{"f":1022.92,"t":0.06},{"f":1023.03,"t":-0.04},{"f":1023.1,"t":0.1},{"f":1023.18,"t":-0.01},{"f":1023.26,"t":0.1},{"f":1023.36,"t":0.08},{"f":1023.46,"t":-0.03},{"f":1023.52,"t":0.15},{"f":1023.61,"t":0.01},{"f":1023.72,"t":0.09},{"f":1023.79,"t":0.13},{"f":1023.85,"t":-0.09},{"f":1023.94,"t":0.19},{"f":1024.0,"t":-0.03},{"f":1024.06,"t":-0.11},{"f":1024.14,"t":0.05},{"f":1024.19,"t":-0.16},{"f":1024.24,"t":0.13},{"f":1024.33,"t":-0.02},{"f":1024.41,"t":-0.15},{"f":1024.51,"t":-0.11},{"f":1024.61,"t":-0.21},{"f":1024.7,"t":-0.26},{"f":1024.79,"t":-0.07},{"f":1024.88,"t":-0.31},{"f":1024.95,"t":-0.2},{"f":1025.04,"t":-0.1},{"f":1025.11,"t":-0.3},{"f":1025.2,"t":-0.16},{"f":1025.29,"t":-0.28},{"f":1025.4,"t":-0.21},{"f":1025.49,"t":-0.07},{"f":1025.59,"t":-0.3},{"f":1025.68,"t":-0.055},{"f":1025.78,"t":-0.24},{"f":1025.87,"t":-0.26},{"f":1025.95,"t":-0.17},{"f":1026.02,"t":-0.1},{"f":1026.11,"t":-0.26},{"f":1026.19,"t":-0.13},{"f":1026.27,"t":0.04},{"f":1026.33,"t":-0.08},{"f":1026.41,"t":-0.13},{"f":1026.49,"t":-0.15},{"f":1026.56,"t":-0.21},{"f":1026.65,"t":-0.24},{"f":1026.76,"t":-0.04},{"f":1026.83,"t":-0.09},{"f":1026.93,"t":-0.22},{"f":1027.02,"t":-0.11},{"f":1027.13,"t":-0.17},{"f":1027.19,"t":-0.33},{"f":1027.27,"t":-0.16},{"f":1027.33,"t":-0.03},{"f":1027.43,"t":-0.08},{"f":1027.54,"t":-0.185},{"f":1027.65,"t":-0.055},{"f":1027.74,"t":-0.19},{"f":1027.84,"t":-0.11},{"f":1027.92,"t":-0.2},{"f":1028.04,"t":0.0},{"f":1028.13,"t":-0.055},{"f":1028.23,"t":0.06},{"f":1028.33,"t":0.11},{"f":1028.42,"t":0.02},{"f":1028.51,"t":-0.06},{"f":1028.61,"t":-0.107},{"f":1028.7,"t":0.02},{"f":1028.79,"t":0.0},{"f":1028.88,"t":-0.06},{"f":1028.99,"t":0.05},{"f":1029.09,"t":-0.07},{"f":1029.19,"t":0.1},{"f":1029.27,"t":0.02},{"f":1029.36,"t":0.19},{"f":1029.42,"t":0.25},{"f":1029.51,"t":0.14},{"f":1029.6,"t":0.1},{"f":1029.7,"t":0.09},{"f":1029.79,"t":0.22},{"f":1029.9,"t":0.09},{"f":1029.99,"t":0.14},{"f":1030.09,"t":0.11},{"f":1030.18,"t":0.21},{"f":1030.27,"t":0.28},{"f":1030.33,"t":0.34},{"f":1030.42,"t":0.21},{"f":1030.5,"t":0.13},{"f":1030.6,"t":0.1},{"f":1030.69,"t":0.04},{"f":1030.77,"t":0.17},{"f":1030.86,"t":0.02},{"f":1030.95,"t":0.09},{"f":1031.04,"t":0.154},{"f":1031.14,"t":0.14},{"f":1031.22,"t":0.31},{"f":1031.29,"t":0.27},{"f":1031.38,"t":0.32},{"f":1031.5,"t":0.14},{"f":1031.57,"t":0.02},{"f":1031.68,"t":0.09},{"f":1031.77,"t":0.17},{"f":1031.88,"t":0.22},{"f":1031.97,"t":0.245},{"f":1032.06,"t":0.14},{"f":1032.15,"t":0.32},{"f":1032.24,"t":0.25},{"f":1032.34,"t":0.17},{"f":1032.45,"t":0.21},{"f":1032.55,"t":0.154},{"f":1032.64,"t":0.03},{"f":1032.73,"t":0.245},{"f":1032.84,"t":0.154},{"f":1032.93,"t":0.1},{"f":1033.04,"t":0.09},{"f":1033.13,"t":0.01},{"f":1033.22,"t":0.17},{"f":1033.3,"t":0.09},{"f":1033.41,"t":0.14},{"f":1033.5,"t":0.056},{"f":1033.6,"t":-0.035},{"f":1033.69,"t":0.11},{"f":1033.79,"t":0.02},{"f":1033.88,"t":0.154},{"f":1033.98,"t":0.09},{"f":1034.07,"t":0.01},{"f":1034.18,"t":0.154},{"f":1034.27,"t":-0.016},{"f":1034.37,"t":0.09},{"f":1034.46,"t":0.13},{"f":1034.56,"t":-0.03},{"f":1034.65,"t":-0.146},{"f":1034.75,"t":-0.03},{"f":1034.84,"t":0.076},{"f":1034.95,"t":0.11},{"f":1035.04,"t":0.02},{"f":1035.14,"t":0.154},{"f":1035.23,"t":-0.055},{"f":1035.33,"t":0.27},{"f":1035.39,"t":-0.016},{"f":1035.47,"t":-0.055},{"f":1035.55,"t":0.06},{"f":1035.63,"t":-0.21},{"f":1035.7,"t":0.0},{"f":1035.79,"t":-0.13},{"f":1035.87,"t":0.05},{"f":1035.97,"t":-0.24},{"f":1036.02,"t":0.11},{"f":1036.11,"t":-0.03},{"f":1036.2,"t":-0.17},{"f":1036.28,"t":0.02},{"f":1036.36,"t":-0.185},{"f":1036.42,"t":-0.17},{"f":1036.47,"t":0.4},{"f":1036.56,"t":0.31},{"f":1036.64,"t":0.1},{"f":1036.72,"t":0.51},{"f":1036.79,"t":0.28},{"f":1036.89,"t":0.34},{"f":1036.96,"t":0.53},{"f":1037.02,"t":0.21},{"f":1037.1,"t":0.57},{"f":1037.14,"t":0.79},{"f":1037.21,"t":0.545},{"f":1037.29,"t":0.49},{"f":1037.38,"t":0.34},{"f":1037.46,"t":0.14},{"f":1037.54,"t":0.65},{"f":1037.61,"t":0.35},{"f":1037.68,"t":0.04},{"f":1037.75,"t":-0.03},{"f":1037.83,"t":-0.32},{"f":1037.91,"t":-0.08},{"f":1037.98,"t":0.01},{"f":1038.06,"t":-0.26},{"f":1038.15,"t":-0.3},{"f":1038.24,"t":-0.2},{"f":1038.33,"t":-0.016},{"f":1038.42,"t":-0.32},{"f":1038.5,"t":0.03},{"f":1038.56,"t":0.43},{"f":1038.61,"t":0.27},{"f":1038.69,"t":0.0},{"f":1038.77,"t":0.32},{"f":1038.86,"t":0.09},{"f":1038.95,"t":-0.07},{"f":1039.03,"t":0.28},{"f":1039.12,"t":0.43},{"f":1039.23,"t":0.09},{"f":1039.32,"t":0.27},{"f":1039.41,"t":-0.19},{"f":1039.48,"t":0.154},{"f":1039.57,"t":0.51},{"f":1039.64,"t":0.21},{"f":1039.71,"t":0.245},{"f":1039.8,"t":0.154},{"f":1039.88,"t":0.09},{"f":1039.96,"t":0.27},{"f":1040.03,"t":-0.12},
      {"f":1040.07,"t":0.19},{"f":1040.15,"t":-0.34},{"f":1040.21,"t":-0.016},{"f":1040.28,"t":-0.07},{"f":1040.33,"t":-0.16},{"f":1040.38,"t":0.06},{"f":1040.42,"t":-0.28},{"f":1040.48,"t":0.0},{"f":1040.53,"t":0.15},{"f":1040.61,"t":-0.04},{"f":1040.66,"t":0.095},{"f":1040.74,"t":-0.12},{"f":1040.8,"t":0.01},{"f":1040.88,"t":-0.17},{"f":1040.94,"t":0.02},{"f":1041.02,"t":0.14},{"f":1041.1,"t":0.21},{"f":1041.17,"t":-0.08},{"f":1041.25,"t":-0.12},{"f":1041.34,"t":0.02},{"f":1041.43,"t":-0.13},{"f":1041.52,"t":0.14},{"f":1041.59,"t":0.34},{"f":1041.67,"t":0.3},{"f":1041.76,"t":0.1},{"f":1041.85,"t":0.245},{"f":1041.94,"t":0.14},{"f":1042.01,"t":0.28},{"f":1042.06,"t":0.44},{"f":1042.12,"t":0.02},{"f":1042.21,"t":-0.04},{"f":1042.3,"t":-0.08},{"f":1042.39,"t":0.0},{"f":1042.5,"t":-0.094},{"f":1042.58,"t":-0.16},{"f":1042.66,"t":0.037},{"f":1042.74,"t":-0.08},{"f":1042.83,"t":-0.03},{"f":1042.92,"t":-0.146},{"f":1043.01,"t":-0.2},{"f":1043.1,"t":-0.094},{"f":1043.19,"t":-0.12},{"f":1043.28,"t":-0.185},{"f":1043.38,"t":-0.32},{"f":1043.46,"t":-0.01},{"f":1043.56,"t":-0.25},{"f":1043.66,"t":-0.107},{"f":1043.78,"t":-0.146},{"f":1043.87,"t":-0.07},{"f":1043.96,"t":-0.26},{"f":1044.02,"t":0.02},{"f":1044.1,"t":0.05},{"f":1044.17,"t":0.0},{"f":1044.29,"t":-0.04},{"f":1044.38,"t":-0.08},{"f":1044.48,"t":-0.146},{"f":1044.56,"t":0.02},{"f":1044.64,"t":0.1},{"f":1044.71,"t":-0.08},{"f":1044.82,"t":-0.13},{"f":1044.89,"t":0.0},{"f":1045.0,"t":-0.17},{"f":1045.08,"t":0.01},{"f":1045.2,"t":-0.185},{"f":1045.28,"t":-0.21},{"f":1045.38,"t":-0.29},{"f":1045.47,"t":-0.2},{"f":1045.57,"t":-0.32},{"f":1045.66,"t":-0.21},{"f":1045.76,"t":-0.107},{"f":1045.85,"t":-0.04},{"f":1045.96,"t":-0.16},{"f":1046.05,"t":-0.185},{"f":1046.12,"t":-0.3},{"f":1046.19,"t":-0.055},{"f":1046.28,"t":-0.146},{"f":1046.37,"t":-0.094},{"f":1046.47,"t":-0.107},{"f":1046.53,"t":-0.08},{"f":1046.6,"t":0.02},{"f":1046.65,"t":-0.17},{"f":1046.74,"t":-0.08},{"f":1046.82,"t":-0.094},{"f":1046.9,"t":-0.29},{"f":1046.96,"t":-0.03},{"f":1047.03,"t":-0.28},{"f":1047.08,"t":-0.2},{"f":1047.16,"t":-0.38},{"f":1047.21,"t":-0.21},{"f":1047.29,"t":-0.08},{"f":1047.38,"t":-0.32},{"f":1047.48,"t":-0.107},{"f":1047.56,"t":-0.28},{"f":1047.62,"t":-0.37},{"f":1047.69,"t":-0.107},{"f":1047.76,"t":-0.26},{"f":1047.84,"t":-0.12},{"f":1047.93,"t":0.15},{"f":1047.98,"t":-0.107},{"f":1048.07,"t":0.02},{"f":1048.16,"t":-0.07},{"f":1048.25,"t":-0.146},{"f":1048.3,"t":0.09},{"f":1048.38,"t":0.17},{"f":1048.43,"t":0.39},{"f":1048.48,"t":-0.04},{"f":1048.55,"t":0.27},{"f":1048.63,"t":-0.04},{"f":1048.72,"t":0.15},{"f":1048.8,"t":-0.24},{"f":1048.87,"t":0.17},{"f":1048.96,"t":-0.23},{"f":1049.05,"t":0.3},{"f":1049.15,"t":-0.16},{"f":1049.24,"t":0.23},{"f":1049.34,"t":-0.16},{"f":1049.39,"t":-0.41},{"f":1049.47,"t":0.31},{"f":1049.55,"t":-0.107},{"f":1049.62,"t":0.28},{"f":1049.7,"t":-0.094},{"f":1049.79,"t":0.21},{"f":1049.84,"t":0.0},{"f":1049.92,"t":0.28},{"f":1049.98,"t":0.39},{"f":1050.05,"t":0.61},{"f":1050.1,"t":0.44},{"f":1050.17,"t":0.35},{"f":1050.22,"t":0.19},{"f":1050.3,"t":0.61},{"f":1050.35,"t":0.325},{"f":1050.43,"t":-0.02},{"f":1050.48,"t":0.45},{"f":1050.53,"t":0.68},{"f":1050.58,"t":0.325},{"f":1050.65,"t":0.26},{"f":1050.71,"t":0.45},{"f":1050.75,"t":-0.02},{"f":1050.81,"t":0.43},{"f":1050.9,"t":0.22},{"f":1050.97,"t":0.14},{"f":1051.03,"t":0.67},{"f":1051.07,"t":0.35},{"f":1051.15,"t":0.21},{"f":1051.22,"t":0.11},{"f":1051.34,"t":0.48},{"f":1051.4,"t":0.17},{"f":1051.45,"t":0.83},{"f":1051.51,"t":1.3},{"f":1051.56,"t":0.79},{"f":1051.61,"t":1.17},{"f":1051.67,"t":1.12},{"f":1051.72,"t":0.82},{"f":1051.78,"t":1.07},{"f":1051.83,"t":0.86},{"f":1051.89,"t":1.03},{"f":1051.94,"t":0.7},{"f":1052.01,"t":0.34},{"f":1052.07,"t":0.69},{"f":1052.13,"t":0.28},{"f":1052.2,"t":0.545},{"f":1052.28,"t":0.62},{"f":1052.34,"t":0.21},{"f":1052.4,"t":0.05},{"f":1052.47,"t":0.02},{"f":1052.54,"t":0.35},{"f":1052.6,"t":-0.107},{"f":1052.67,"t":-0.24},{"f":1052.76,"t":-0.38},{"f":1052.83,"t":-0.107},{"f":1052.9,"t":-0.21},{"f":1052.98,"t":-0.055},{"f":1053.04,"t":0.21},{"f":1053.11,"t":0.34},{"f":1053.17,"t":-0.016},{"f":1053.26,"t":0.245},{"f":1053.35,"t":0.02},{"f":1053.43,"t":0.14},{"f":1053.48,"t":-0.19},{"f":1053.54,"t":0.19},{"f":1053.61,"t":0.51},{"f":1053.69,"t":0.23},{"f":1053.77,"t":0.39},{"f":1053.88,"t":0.1},{"f":1053.95,"t":0.21},{"f":1054.03,"t":0.4},{"f":1054.1,"t":0.06},{"f":1054.17,"t":-0.016},{"f":1054.25,"t":-0.094},{"f":1054.33,"t":-0.185},{"f":1054.39,"t":-0.03},{"f":1054.47,"t":0.14},{"f":1054.53,"t":-0.016},{"f":1054.61,"t":0.05},{"f":1054.68,"t":-0.107},{"f":1054.77,"t":-0.03},{"f":1054.84,"t":-0.17},{"f":1054.9,"t":-0.355},{"f":1054.95,"t":-0.43},{"f":1055.03,"t":-0.3},{"f":1055.1,"t":-0.38},{"f":1055.15,"t":-0.46},{"f":1055.21,"t":-0.3},{"f":1055.29,"t":-0.24},{"f":1055.35,"t":-0.38},{"f":1055.43,"t":-0.34},{"f":1055.49,"t":-0.21},{"f":1055.56,"t":-0.13},{"f":1055.62,"t":-0.04},{"f":1055.71,"t":-0.33},{"f":1055.77,"t":-0.185},{"f":1055.85,"t":-0.16},{"f":1055.92,"t":-0.355},{"f":1055.98,"t":-0.04},{"f":1056.04,"t":0.06},{"f":1056.13,"t":-0.055},{"f":1056.22,"t":-0.016},{"f":1056.33,"t":-0.12},{"f":1056.39,"t":-0.07},{"f":1056.45,"t":-0.13},{"f":1056.51,"t":0.076},{"f":1056.58,"t":-0.08},{"f":1056.61,"t":-0.016}
    ]
  },
  "concat": [
    {
      "width": 1612,
      "height": 994,
      "resolve": {"axis": {"x": "independent", "y": "independent"}},
      "layer": [
        {
          "data": {"name": "hPipe"},
          "mark": {"type": "area", "color": "#000000"},
          "encoding": {
            "x": {"field": "f", "type": "quantitative", "scale": {"domain": [1020, 1060], "nice": false, "zero": false},
              "axis": {"orient": "bottom", "values": [1020,1021,1022,1023,1024,1025,1026,1027,1028,1029,1030,1031,1032,1033,1034,1035,1036,1037,1038,1039,1040,1041,1042,1043,1044,1045,1046,1047,1048,1049,1050,1051,1052,1053,1054,1055,1056,1057,1058,1059,1060],
                "labelExpr": "datum.value % 5 === 0 ? format(datum.value, 'd') : ''",
                "tickSize": {"condition": {"test": "datum.value % 5 === 0", "value": -33}, "value": -17},
                "labelPadding": 58, "titlePadding": -10, "title": "WBS-H SSB Frequency (GHz)"}},
            "y": {"field": "lo", "type": "quantitative", "scale": {"domain": [-3, 5], "nice": false, "zero": false},
              "axis": {"orient": "left", "values": [-3,-2.8,-2.6,-2.4,-2.2,-2,-1.8,-1.6,-1.4,-1.2,-1,-0.8,-0.6,-0.4,-0.2,0,0.2,0.4,0.6,0.8,1,1.2,1.4,1.6,1.8,2,2.2,2.4,2.6,2.8,3,3.2,3.4,3.6,3.8,4,4.2,4.4,4.6,4.8,5],
                "labelExpr": "abs(datum.value - round(datum.value)) < 0.01 ? replace(format(datum.value, 'd'), '\u2212', '-') : ''",
                "tickSize": {"condition": {"test": "abs(datum.value - round(datum.value)) < 0.01", "value": -40}, "value": -20},
                "labelPadding": 62, "titlePadding": 28, "title": "Antenna Temperature (K)"}},
            "y2": {"field": "hi"}
          }
        },
        {
          "data": {"name": "hBase"},
          "mark": {"type": "line", "strokeWidth": 3},
          "encoding": {
            "x": {"field": "f", "type": "quantitative", "scale": {"domain": [1020, 1060], "nice": false, "zero": false},
              "axis": {"orient": "top", "values": [1020,1021,1022,1023,1024,1025,1026,1027,1028,1029,1030,1031,1032,1033,1034,1035,1036,1037,1038,1039,1040,1041,1042,1043,1044,1045,1046,1047,1048,1049,1050,1051,1052,1053,1054,1055,1056,1057,1058,1059,1060],
                "labels": false, "title": null,
                "tickSize": {"condition": {"test": "datum.value % 5 === 0", "value": -33}, "value": -17}}},
            "y": {"field": "t", "type": "quantitative", "scale": {"domain": [-3, 5], "nice": false, "zero": false},
              "axis": {"orient": "right", "values": [-3,-2.8,-2.6,-2.4,-2.2,-2,-1.8,-1.6,-1.4,-1.2,-1,-0.8,-0.6,-0.4,-0.2,0,0.2,0.4,0.6,0.8,1,1.2,1.4,1.6,1.8,2,2.2,2.4,2.6,2.8,3,3.2,3.4,3.6,3.8,4,4.2,4.4,4.6,4.8,5],
                "labels": false, "title": null,
                "tickSize": {"condition": {"test": "abs(datum.value - round(datum.value)) < 0.01", "value": -40}, "value": -20}}},
            "color": {"datum": "Baseline", "type": "nominal",
              "scale": {"domain": ["Pipeline Products", "Baseline-corrected Products", "Baseline"], "range": ["#000000", "#0000ff", "#ff0000"]},
              "legend": {"orient": "none", "legendX": 647, "legendY": -80, "direction": "horizontal", "columns": 3, "gridAlign": "all", "columnPadding": 38,
                "symbolType": "M0,0H6.6", "symbolSize": 1296, "symbolStrokeWidth": 4, "labelFont": "Liberation Serif", "labelFontSize": 39, "labelColor": "#000000",
                "labelOffset": 144, "labelLimit": 0, "padding": 6, "strokeColor": "#000000", "title": null}}
          }
        }
      ]
    },
    {
      "width": 1612,
      "height": 994,
      "resolve": {"axis": {"x": "independent", "y": "independent"}},
      "layer": [
        {
          "data": {"name": "vPipe"},
          "mark": {"type": "area", "color": "#000000"},
          "encoding": {
            "x": {"field": "f", "type": "quantitative", "scale": {"domain": [1020, 1060], "nice": false, "zero": false},
              "axis": {"orient": "bottom", "values": [1020,1021,1022,1023,1024,1025,1026,1027,1028,1029,1030,1031,1032,1033,1034,1035,1036,1037,1038,1039,1040,1041,1042,1043,1044,1045,1046,1047,1048,1049,1050,1051,1052,1053,1054,1055,1056,1057,1058,1059,1060],
                "labelExpr": "datum.value % 5 === 0 ? format(datum.value, 'd') : ''",
                "tickSize": {"condition": {"test": "datum.value % 5 === 0", "value": -33}, "value": -17},
                "labelPadding": 58, "titlePadding": -10, "title": "WBS-V SSB Frequency (GHz)"}},
            "y": {"field": "lo", "type": "quantitative", "scale": {"domain": [-5, 6], "nice": false, "zero": false},
              "axis": {"orient": "left", "values": [-5,-4.8,-4.6,-4.4,-4.2,-4,-3.8,-3.6,-3.4,-3.2,-3,-2.8,-2.6,-2.4,-2.2,-2,-1.8,-1.6,-1.4,-1.2,-1,-0.8,-0.6,-0.4,-0.2,0,0.2,0.4,0.6,0.8,1,1.2,1.4,1.6,1.8,2,2.2,2.4,2.6,2.8,3,3.2,3.4,3.6,3.8,4,4.2,4.4,4.6,4.8,5,5.2,5.4,5.6,5.8,6],
                "labelExpr": "abs(datum.value - round(datum.value)) < 0.01 ? replace(format(datum.value, 'd'), '\u2212', '-') : ''",
                "tickSize": {"condition": {"test": "abs(datum.value - round(datum.value)) < 0.01", "value": -40}, "value": -20},
                "labelPadding": 62, "titlePadding": 28, "title": "Antenna Temperature (K)"}},
            "y2": {"field": "hi"}
          }
        },
        {
          "data": {"name": "vBase"},
          "mark": {"type": "line", "strokeWidth": 3},
          "encoding": {
            "x": {"field": "f", "type": "quantitative", "scale": {"domain": [1020, 1060], "nice": false, "zero": false},
              "axis": {"orient": "top", "values": [1020,1021,1022,1023,1024,1025,1026,1027,1028,1029,1030,1031,1032,1033,1034,1035,1036,1037,1038,1039,1040,1041,1042,1043,1044,1045,1046,1047,1048,1049,1050,1051,1052,1053,1054,1055,1056,1057,1058,1059,1060],
                "labels": false, "title": null,
                "tickSize": {"condition": {"test": "datum.value % 5 === 0", "value": -33}, "value": -17}}},
            "y": {"field": "t", "type": "quantitative", "scale": {"domain": [-5, 6], "nice": false, "zero": false},
              "axis": {"orient": "right", "values": [-5,-4.8,-4.6,-4.4,-4.2,-4,-3.8,-3.6,-3.4,-3.2,-3,-2.8,-2.6,-2.4,-2.2,-2,-1.8,-1.6,-1.4,-1.2,-1,-0.8,-0.6,-0.4,-0.2,0,0.2,0.4,0.6,0.8,1,1.2,1.4,1.6,1.8,2,2.2,2.4,2.6,2.8,3,3.2,3.4,3.6,3.8,4,4.2,4.4,4.6,4.8,5,5.2,5.4,5.6,5.8,6],
                "labels": false, "title": null,
                "tickSize": {"condition": {"test": "abs(datum.value - round(datum.value)) < 0.01", "value": -40}, "value": -20}}},
            "color": {"datum": "Baseline", "type": "nominal"}
          }
        }
      ]
    },
    {
      "width": 1612,
      "height": 994,
      "resolve": {"axis": {"x": "independent", "y": "independent"}},
      "layer": [
        {
          "data": {"name": "hCorr"},
          "mark": {"type": "area", "color": "#0000ff"},
          "encoding": {
            "x": {"field": "f", "type": "quantitative", "scale": {"domain": [1020, 1060], "nice": false, "zero": false},
              "axis": {"orient": "bottom", "values": [1020,1021,1022,1023,1024,1025,1026,1027,1028,1029,1030,1031,1032,1033,1034,1035,1036,1037,1038,1039,1040,1041,1042,1043,1044,1045,1046,1047,1048,1049,1050,1051,1052,1053,1054,1055,1056,1057,1058,1059,1060],
                "labelExpr": "datum.value % 5 === 0 ? format(datum.value, 'd') : ''",
                "tickSize": {"condition": {"test": "datum.value % 5 === 0", "value": -33}, "value": -17},
                "labelPadding": 58, "titlePadding": -10, "title": "WBS-H SSB Frequency (GHz)"}},
            "y": {"field": "lo", "type": "quantitative", "scale": {"domain": [-3, 5], "nice": false, "zero": false},
              "axis": {"orient": "left", "values": [-3,-2.8,-2.6,-2.4,-2.2,-2,-1.8,-1.6,-1.4,-1.2,-1,-0.8,-0.6,-0.4,-0.2,0,0.2,0.4,0.6,0.8,1,1.2,1.4,1.6,1.8,2,2.2,2.4,2.6,2.8,3,3.2,3.4,3.6,3.8,4,4.2,4.4,4.6,4.8,5],
                "labelExpr": "abs(datum.value - round(datum.value)) < 0.01 ? replace(format(datum.value, 'd'), '\u2212', '-') : ''",
                "tickSize": {"condition": {"test": "abs(datum.value - round(datum.value)) < 0.01", "value": -40}, "value": -20},
                "labelPadding": 62, "titlePadding": 28, "title": "Antenna Temperature (K)"}},
            "y2": {"field": "hi"}
          }
        },
        {
          "data": {"name": "hCorr"},
          "mark": {"type": "point", "opacity": 0},
          "encoding": {
            "x": {"field": "f", "type": "quantitative", "scale": {"domain": [1020, 1060], "nice": false, "zero": false},
              "axis": {"orient": "top", "values": [1020,1021,1022,1023,1024,1025,1026,1027,1028,1029,1030,1031,1032,1033,1034,1035,1036,1037,1038,1039,1040,1041,1042,1043,1044,1045,1046,1047,1048,1049,1050,1051,1052,1053,1054,1055,1056,1057,1058,1059,1060],
                "labels": false, "title": null,
                "tickSize": {"condition": {"test": "datum.value % 5 === 0", "value": -33}, "value": -17}}},
            "y": {"field": "hi", "type": "quantitative", "scale": {"domain": [-3, 5], "nice": false, "zero": false},
              "axis": {"orient": "right", "values": [-3,-2.8,-2.6,-2.4,-2.2,-2,-1.8,-1.6,-1.4,-1.2,-1,-0.8,-0.6,-0.4,-0.2,0,0.2,0.4,0.6,0.8,1,1.2,1.4,1.6,1.8,2,2.2,2.4,2.6,2.8,3,3.2,3.4,3.6,3.8,4,4.2,4.4,4.6,4.8,5],
                "labels": false, "title": null,
                "tickSize": {"condition": {"test": "abs(datum.value - round(datum.value)) < 0.01", "value": -40}, "value": -20}}}
          }
        }
      ]
    },
    {
      "width": 1612,
      "height": 994,
      "resolve": {"axis": {"x": "independent", "y": "independent"}},
      "layer": [
        {
          "data": {"name": "vCorr"},
          "mark": {"type": "area", "color": "#0000ff"},
          "encoding": {
            "x": {"field": "f", "type": "quantitative", "scale": {"domain": [1020, 1060], "nice": false, "zero": false},
              "axis": {"orient": "bottom", "values": [1020,1021,1022,1023,1024,1025,1026,1027,1028,1029,1030,1031,1032,1033,1034,1035,1036,1037,1038,1039,1040,1041,1042,1043,1044,1045,1046,1047,1048,1049,1050,1051,1052,1053,1054,1055,1056,1057,1058,1059,1060],
                "labelExpr": "datum.value % 5 === 0 ? format(datum.value, 'd') : ''",
                "tickSize": {"condition": {"test": "datum.value % 5 === 0", "value": -33}, "value": -17},
                "labelPadding": 58, "titlePadding": -10, "title": "WBS-V SSB Frequency (GHz)"}},
            "y": {"field": "lo", "type": "quantitative", "scale": {"domain": [-5, 5], "nice": false, "zero": false},
              "axis": {"orient": "left", "values": [-5,-4.8,-4.6,-4.4,-4.2,-4,-3.8,-3.6,-3.4,-3.2,-3,-2.8,-2.6,-2.4,-2.2,-2,-1.8,-1.6,-1.4,-1.2,-1,-0.8,-0.6,-0.4,-0.2,0,0.2,0.4,0.6,0.8,1,1.2,1.4,1.6,1.8,2,2.2,2.4,2.6,2.8,3,3.2,3.4,3.6,3.8,4,4.2,4.4,4.6,4.8,5],
                "labelExpr": "abs(datum.value - round(datum.value)) < 0.01 ? replace(format(datum.value, 'd'), '\u2212', '-') : ''",
                "tickSize": {"condition": {"test": "abs(datum.value - round(datum.value)) < 0.01", "value": -40}, "value": -20},
                "labelPadding": 62, "titlePadding": 28, "title": "Antenna Temperature (K)"}},
            "y2": {"field": "hi"}
          }
        },
        {
          "data": {"name": "vCorr"},
          "mark": {"type": "point", "opacity": 0},
          "encoding": {
            "x": {"field": "f", "type": "quantitative", "scale": {"domain": [1020, 1060], "nice": false, "zero": false},
              "axis": {"orient": "top", "values": [1020,1021,1022,1023,1024,1025,1026,1027,1028,1029,1030,1031,1032,1033,1034,1035,1036,1037,1038,1039,1040,1041,1042,1043,1044,1045,1046,1047,1048,1049,1050,1051,1052,1053,1054,1055,1056,1057,1058,1059,1060],
                "labels": false, "title": null,
                "tickSize": {"condition": {"test": "datum.value % 5 === 0", "value": -33}, "value": -17}}},
            "y": {"field": "hi", "type": "quantitative", "scale": {"domain": [-5, 5], "nice": false, "zero": false},
              "axis": {"orient": "right", "values": [-5,-4.8,-4.6,-4.4,-4.2,-4,-3.8,-3.6,-3.4,-3.2,-3,-2.8,-2.6,-2.4,-2.2,-2,-1.8,-1.6,-1.4,-1.2,-1,-0.8,-0.6,-0.4,-0.2,0,0.2,0.4,0.6,0.8,1,1.2,1.4,1.6,1.8,2,2.2,2.4,2.6,2.8,3,3.2,3.4,3.6,3.8,4,4.2,4.4,4.6,4.8,5],
                "labels": false, "title": null,
                "tickSize": {"condition": {"test": "abs(datum.value - round(datum.value)) < 0.01", "value": -40}, "value": -20}}}
          }
        }
      ]
    },
    {
      "width": 1612,
      "height": 994,
      "resolve": {"axis": {"x": "independent", "y": "independent"}},
      "layer": [
        {
          "data": {"name": "hBase"},
          "mark": {"type": "line", "strokeWidth": 3},
          "encoding": {
            "x": {"field": "f", "type": "quantitative", "scale": {"domain": [1020, 1060], "nice": false, "zero": false},
              "axis": {"orient": "bottom", "values": [1020,1021,1022,1023,1024,1025,1026,1027,1028,1029,1030,1031,1032,1033,1034,1035,1036,1037,1038,1039,1040,1041,1042,1043,1044,1045,1046,1047,1048,1049,1050,1051,1052,1053,1054,1055,1056,1057,1058,1059,1060],
                "labelExpr": "datum.value % 5 === 0 ? format(datum.value, 'd') : ''",
                "tickSize": {"condition": {"test": "datum.value % 5 === 0", "value": -33}, "value": -17},
                "labelPadding": 58, "titlePadding": -10, "title": "WBS-H SSB Frequency (GHz)"}},
            "y": {"field": "t", "type": "quantitative", "scale": {"domain": [-0.5, 0.6], "nice": false, "zero": false},
              "axis": {"orient": "left", "values": [-0.5,-0.48,-0.46,-0.44,-0.42,-0.4,-0.38,-0.36,-0.34,-0.32,-0.3,-0.28,-0.26,-0.24,-0.22,-0.2,-0.18,-0.16,-0.14,-0.12,-0.1,-0.08,-0.06,-0.04,-0.02,0,0.02,0.04,0.06,0.08,0.1,0.12,0.14,0.16,0.18,0.2,0.22,0.24,0.26,0.28,0.3,0.32,0.34,0.36,0.38,0.4,0.42,0.44,0.46,0.48,0.5,0.52,0.54,0.56,0.58,0.6],
                "labelExpr": "abs(datum.value * 10 - round(datum.value * 10)) < 0.01 ? replace(format(datum.value, '.1f'), '\u2212', '-') : ''",
                "tickSize": {"condition": {"test": "abs(datum.value * 10 - round(datum.value * 10)) < 0.01", "value": -40}, "value": -20},
                "labelPadding": 62, "titlePadding": 28, "title": "Antenna Temperature (K)"}},
            "color": {"datum": "Baseline", "type": "nominal"}
          }
        },
        {
          "data": {"name": "hBase"},
          "mark": {"type": "point", "opacity": 0},
          "encoding": {
            "x": {"field": "f", "type": "quantitative", "scale": {"domain": [1020, 1060], "nice": false, "zero": false},
              "axis": {"orient": "top", "values": [1020,1021,1022,1023,1024,1025,1026,1027,1028,1029,1030,1031,1032,1033,1034,1035,1036,1037,1038,1039,1040,1041,1042,1043,1044,1045,1046,1047,1048,1049,1050,1051,1052,1053,1054,1055,1056,1057,1058,1059,1060],
                "labels": false, "title": null,
                "tickSize": {"condition": {"test": "datum.value % 5 === 0", "value": -33}, "value": -17}}},
            "y": {"field": "t", "type": "quantitative", "scale": {"domain": [-0.5, 0.6], "nice": false, "zero": false},
              "axis": {"orient": "right", "values": [-0.5,-0.48,-0.46,-0.44,-0.42,-0.4,-0.38,-0.36,-0.34,-0.32,-0.3,-0.28,-0.26,-0.24,-0.22,-0.2,-0.18,-0.16,-0.14,-0.12,-0.1,-0.08,-0.06,-0.04,-0.02,0,0.02,0.04,0.06,0.08,0.1,0.12,0.14,0.16,0.18,0.2,0.22,0.24,0.26,0.28,0.3,0.32,0.34,0.36,0.38,0.4,0.42,0.44,0.46,0.48,0.5,0.52,0.54,0.56,0.58,0.6],
                "labels": false, "title": null,
                "tickSize": {"condition": {"test": "abs(datum.value * 10 - round(datum.value * 10)) < 0.01", "value": -40}, "value": -20}}}
          }
        }
      ]
    },
    {
      "width": 1612,
      "height": 994,
      "resolve": {"axis": {"x": "independent", "y": "independent"}},
      "layer": [
        {
          "data": {"name": "vBase"},
          "mark": {"type": "line", "strokeWidth": 3},
          "encoding": {
            "x": {"field": "f", "type": "quantitative", "scale": {"domain": [1020, 1060], "nice": false, "zero": false},
              "axis": {"orient": "bottom", "values": [1020,1021,1022,1023,1024,1025,1026,1027,1028,1029,1030,1031,1032,1033,1034,1035,1036,1037,1038,1039,1040,1041,1042,1043,1044,1045,1046,1047,1048,1049,1050,1051,1052,1053,1054,1055,1056,1057,1058,1059,1060],
                "labelExpr": "datum.value % 5 === 0 ? format(datum.value, 'd') : ''",
                "tickSize": {"condition": {"test": "datum.value % 5 === 0", "value": -33}, "value": -17},
                "labelPadding": 58, "titlePadding": -10, "title": "WBS-V SSB Frequency (GHz)"}},
            "y": {"field": "t", "type": "quantitative", "scale": {"domain": [-0.6, 1.4], "nice": false, "zero": false},
              "axis": {"orient": "left", "values": [-0.6,-0.55,-0.5,-0.45,-0.4,-0.35,-0.3,-0.25,-0.2,-0.15,-0.1,-0.05,0,0.05,0.1,0.15,0.2,0.25,0.3,0.35,0.4,0.45,0.5,0.55,0.6,0.65,0.7,0.75,0.8,0.85,0.9,0.95,1,1.05,1.1,1.15,1.2,1.25,1.3,1.35,1.4],
                "labelExpr": "abs(datum.value * 5 - round(datum.value * 5)) < 0.01 ? replace(format(datum.value, '.1f'), '\u2212', '-') : ''",
                "tickSize": {"condition": {"test": "abs(datum.value * 5 - round(datum.value * 5)) < 0.01", "value": -40}, "value": -20},
                "labelPadding": 62, "titlePadding": 28, "title": "Antenna Temperature (K)"}},
            "color": {"datum": "Baseline", "type": "nominal"}
          }
        },
        {
          "data": {"name": "vBase"},
          "mark": {"type": "point", "opacity": 0},
          "encoding": {
            "x": {"field": "f", "type": "quantitative", "scale": {"domain": [1020, 1060], "nice": false, "zero": false},
              "axis": {"orient": "top", "values": [1020,1021,1022,1023,1024,1025,1026,1027,1028,1029,1030,1031,1032,1033,1034,1035,1036,1037,1038,1039,1040,1041,1042,1043,1044,1045,1046,1047,1048,1049,1050,1051,1052,1053,1054,1055,1056,1057,1058,1059,1060],
                "labels": false, "title": null,
                "tickSize": {"condition": {"test": "datum.value % 5 === 0", "value": -33}, "value": -17}}},
            "y": {"field": "t", "type": "quantitative", "scale": {"domain": [-0.6, 1.4], "nice": false, "zero": false},
              "axis": {"orient": "right", "values": [-0.6,-0.55,-0.5,-0.45,-0.4,-0.35,-0.3,-0.25,-0.2,-0.15,-0.1,-0.05,0,0.05,0.1,0.15,0.2,0.25,0.3,0.35,0.4,0.45,0.5,0.55,0.6,0.65,0.7,0.75,0.8,0.85,0.9,0.95,1,1.05,1.1,1.15,1.2,1.25,1.3,1.35,1.4],
                "labels": false, "title": null,
                "tickSize": {"condition": {"test": "abs(datum.value * 5 - round(datum.value * 5)) < 0.01", "value": -40}, "value": -20}}}
          }
        }
      ]
    }
  ],
  "config": {
    "font": "Liberation Serif",
    "view": {"stroke": null},
    "axis": {
      "domainColor": "#000000", "domainWidth": 3, "tickColor": "#000000", "tickWidth": 3,
      "labelFont": "Liberation Serif", "labelFontSize": 48, "labelColor": "#000000",
      "titleFont": "Liberation Serif", "titleFontSize": 77, "titleFontWeight": "normal", "titleColor": "#000000",
      "grid": false, "labelOverlap": false, "labelFlush": false, "labelBound": false
    }
  }
}
